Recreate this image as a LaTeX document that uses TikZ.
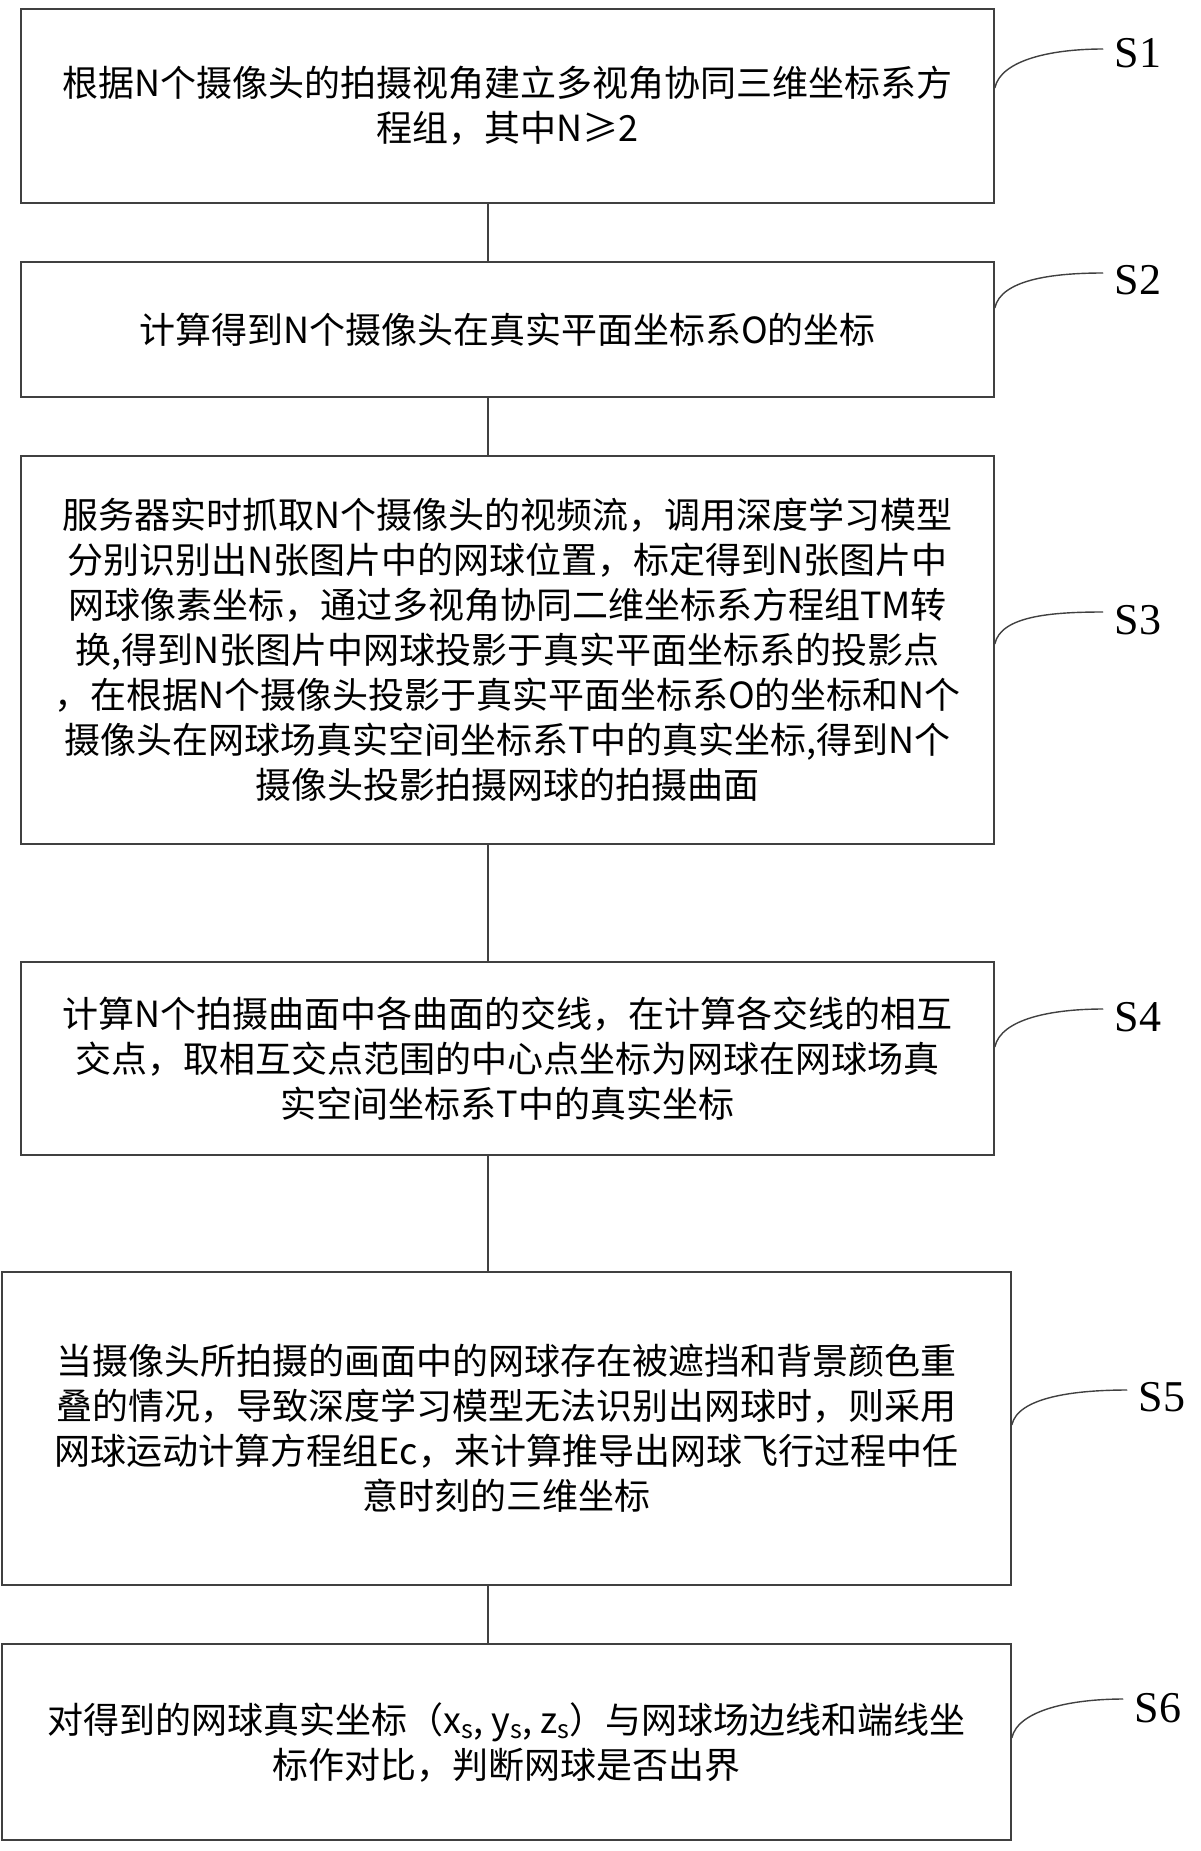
\documentclass[tikz,border=0pt]{standalone}
\usepackage{fontspec}
\setmainfont{Liberation Serif}
\newfontfamily\cjk{Noto Sans CJK SC}
\begin{document}
\begin{tikzpicture}[x=1pt,y=-1pt,
  box/.style={draw=black!75,line width=1.6pt,inner sep=0pt,font=\cjk\fontsize{36}{45}\selectfont,align=center},
  lab/.style={font=\fontsize{44}{44}\selectfont},
  link/.style={draw=black!75,line width=1.6pt},
  tail/.style={draw=black!75,line width=1.4pt}]
\useasboundingbox (0,0) rectangle (1200,1851);
\node[box,minimum width=973,minimum height=194] (s1) at (507.5,106) {根据N个摄像头的拍摄视角建立多视角协同三维坐标系方\\程组，其中N≥2};
\node[box,minimum width=973,minimum height=135] (s2) at (507.5,329.5) {计算得到N个摄像头在真实平面坐标系O的坐标};
\node[box,minimum width=973,minimum height=388] (s3) at (507.5,650) {服务器实时抓取N个摄像头的视频流，调用深度学习模型\\分别识别出N张图片中的网球位置，标定得到N张图片中\\网球像素坐标，通过多视角协同二维坐标系方程组TM转\\换,得到N张图片中网球投影于真实平面坐标系的投影点\\，在根据N个摄像头投影于真实平面坐标系O的坐标和N个\\摄像头在网球场真实空间坐标系T中的真实坐标,得到N个\\摄像头投影拍摄网球的拍摄曲面};
\node[box,minimum width=973,minimum height=193] (s4) at (507.5,1058.5) {计算N个拍摄曲面中各曲面的交线，在计算各交线的相互\\交点，取相互交点范围的中心点坐标为网球在网球场真\\实空间坐标系T中的真实坐标};
\node[box,minimum width=1009,minimum height=313] (s5) at (506.5,1428.5) {当摄像头所拍摄的画面中的网球存在被遮挡和背景颜色重\\叠的情况，导致深度学习模型无法识别出网球时，则采用\\网球运动计算方程组Ec，来计算推导出网球飞行过程中任\\意时刻的三维坐标};
\node[box,minimum width=1009,minimum height=196] (s6) at (506.5,1742) {对得到的网球真实坐标（x\textsubscript{s}, y\textsubscript{s}, z\textsubscript{s}）与网球场边线和端线坐\\标作对比，判断网球是否出界};
\foreach \a/\b in {s1/s2,s2/s3,s3/s4,s4/s5,s5/s6}
  \draw[link] (\a.south -| 488,0) -- (\b.north -| 488,0);
\node[lab] (l1) at (1138,53) {S1};
\node[lab] (l2) at (1138,280) {S2};
\node[lab] (l3) at (1138,620) {S3};
\node[lab] (l4) at (1138,1017) {S4};
\node[lab] (l5) at (1162,1397) {S5};
\node[lab] (l6) at (1158,1708) {S6};
\foreach \n/\sy/\ey in {1/88/49,2/308/273,3/644/612,4/1047/1009,5/1425/1390,6/1738/1699}{
  \coordinate (e\n) at (l\n.west |- 0,\ey);
  \draw[tail] (s\n.east |- 0,\sy) .. controls ([xshift=6,yshift=28]s\n.east |- 0,\sy) and ([xshift=-60]e\n) .. ([xshift=-8]e\n);
}
\end{tikzpicture}
\end{document}
